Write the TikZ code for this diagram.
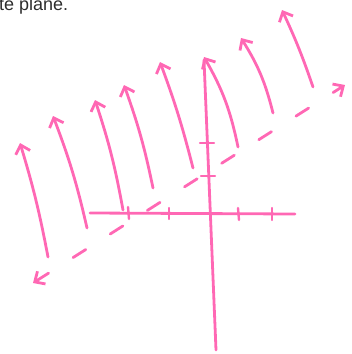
\documentclass[tikz,border=0pt]{standalone}
\usepackage{fontspec}
\setmainfont{Liberation Sans}
\usetikzlibrary{arrows.meta}
\definecolor{rosa}{RGB}{255,104,180}
\definecolor{texto}{RGB}{45,45,45}
\begin{document}
\begin{tikzpicture}[x=1pt, y=-1pt,
    >={Straight Barb[length=8pt,width=15pt]},
    traco/.style={draw=rosa, line width=2.8pt, line cap=round, line join=round},
    marca/.style={draw=rosa, line width=2.4pt, line cap=round}]
\useasboundingbox (0,0) rectangle (352,354);
% Texto cortado no topo
\node[anchor=base west, inner sep=0pt, font=\fontsize{18}{20}\selectfont, text=texto] (titulo) at (-1,10) {te plane.};
% Eixos
\coordinate (xesq) at (90,213);
\coordinate (xdir) at (295,214);
\coordinate (ybaixo) at (216,350);
\coordinate (ytopo) at (204,60);
\draw[traco] (xesq) -- (xdir);
\draw[traco] (ybaixo) -- (ytopo);
% Marcas nos eixos
\draw[marca] (128,207) -- (129,219);
\draw[marca] (169,208) -- (169,219);
\draw[marca] (238,208) -- (239,220);
\draw[marca] (272,208) -- (272,220);
\draw[marca] (200,143) -- (214,143);
\draw[marca] (201,176) -- (215,176);
% Reta tracejada
\coordinate (resq) at (33,283);
\coordinate (rdir) at (345,85);
\draw[traco, <->, dash pattern=on 15pt off 29pt] (resq) -- (rdir);
% Vetores
\coordinate (b1) at (48,257);  \coordinate (t1) at (20,143);
\coordinate (b2) at (87,228);  \coordinate (t2) at (53,116);
\coordinate (b3) at (123,210); \coordinate (t3) at (95,100);
\coordinate (b4) at (153,188); \coordinate (t4) at (124,85);
\coordinate (b5) at (193,168); \coordinate (t5) at (160,62);
\coordinate (b6) at (238,147); \coordinate (t6) at (204,57);
\coordinate (b7) at (273,113); \coordinate (t7) at (241,38);
\coordinate (b8) at (313,87);  \coordinate (t8) at (282,10);
\draw[traco, ->] (b1) to[bend right=3] (t1);
\draw[traco, ->] (b2) to[bend right=4] (t2);
\draw[traco, ->] (b3) to[bend right=4] (t3);
\draw[traco, ->] (b4) to[bend right=4] (t4);
\draw[traco, ->] (b5) to[bend right=3] (t5);
\draw[traco, ->] (b6) to[bend right=9] (t6);
\draw[traco, ->] (b7) to[bend right=9] (t7);
\draw[traco, ->] (b8) to[bend right=3] (t8);
\end{tikzpicture}
\end{document}
